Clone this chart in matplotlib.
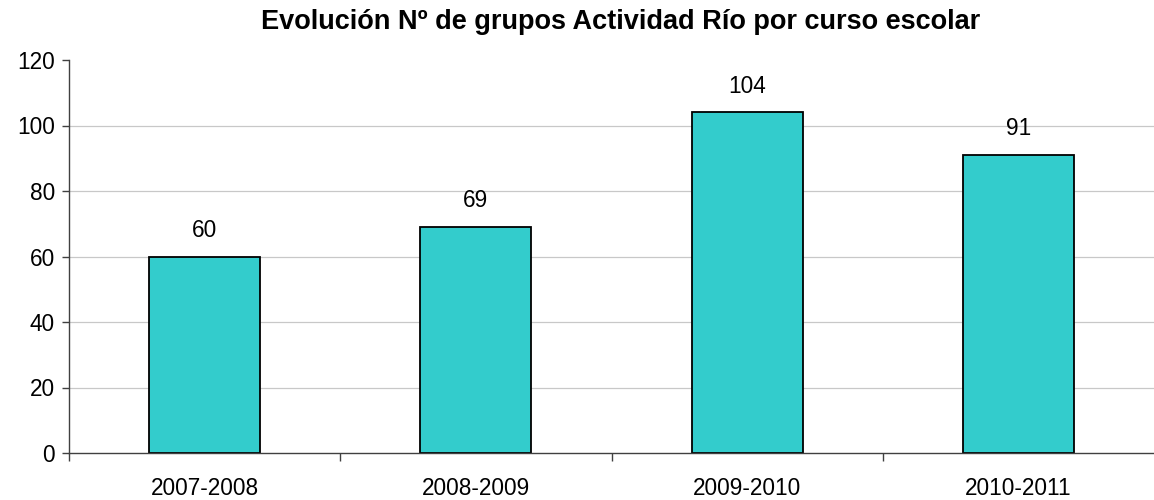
import matplotlib
matplotlib.use("Agg")
import matplotlib.pyplot as plt

categories = ["2007-2008", "2008-2009", "2009-2010", "2010-2011"]
values = [60, 69, 104, 91]
yticks = [0, 20, 40, 60, 80, 100, 120]
title = "Evolución Nº de grupos Actividad Río por curso escolar"

plt.rcParams['font.family'] = ['Liberation Sans', 'DejaVu Sans']

fig = plt.figure(figsize=(11.54, 5.0), dpi=100)
ax = fig.add_axes([69/1154, 1-453/500, 1-69/1154, (453-60)/500])

x = list(range(len(categories)))
ax.bar(x, values, width=0.41, color="#33CCCC", edgecolor="black", linewidth=1.3, zorder=3)
for xi, v in zip(x, values):
    ax.annotate(str(v), (xi, v), xytext=(0, 19), textcoords="offset points",
                ha="center", va="center", fontsize=16.3)

ax.set_xlim(-0.5, len(categories) - 0.5)
ax.set_ylim(0, 120)
ax.set_yticks(yticks)
ax.set_yticklabels([str(t) for t in yticks], fontsize=16.3)
for t in yticks[1:-1]:
    ax.axhline(t, color="#c8c8c8", linewidth=0.9, zorder=0)
ax.tick_params(axis="y", direction="out", length=5, width=1, color="#404040", pad=5)

ax.set_xticks([i - 0.5 for i in range(len(categories))])
ax.set_xticklabels([])
ax.set_xticks(x, minor=True)
ax.set_xticklabels(categories, minor=True, fontsize=16.3)
ax.tick_params(axis="x", which="major", direction="out", length=6, width=1, color="#404040")
ax.tick_params(axis="x", which="minor", length=0, pad=17)

for s in ["top", "right"]:
    ax.spines[s].set_visible(False)
for s in ["left", "bottom"]:
    ax.spines[s].set_color("#404040")
    ax.spines[s].set_linewidth(1)
    ax.spines[s].set_zorder(4)

fig.text(621/1154, 1 - 22/500, title, ha="center", va="center", fontsize=19.5,
         fontweight="bold")

fig.savefig("out.png", dpi=100)
